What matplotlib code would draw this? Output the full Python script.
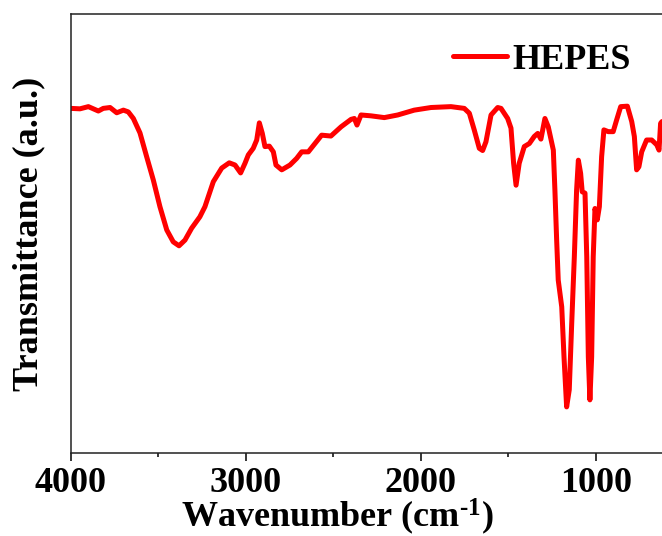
import matplotlib
matplotlib.use("Agg")
import matplotlib.pyplot as plt
from matplotlib.ticker import MultipleLocator

# Data (wavenumber in cm^-1, transmittance in a.u.)
wavenumber = [4000, 3947, 3899, 3842, 3814, 3775, 3737, 3699, 3671, 3642,
              3604, 3566, 3528, 3490, 3451, 3414, 3381, 3347, 3309, 3262,
              3233, 3185, 3137, 3094, 3061, 3029, 3004, 2985, 2957, 2937,
              2922, 2905, 2890, 2865, 2842, 2827, 2794, 2747, 2709, 2680,
              2642, 2604, 2566, 2513, 2455, 2398, 2379, 2364, 2341, 2284,
              2208, 2131, 2037, 1941, 1827, 1751, 1722, 1694, 1665, 1646,
              1627, 1598, 1560, 1541, 1503, 1484, 1469, 1455, 1437, 1408,
              1379, 1351, 1331, 1313, 1290, 1271, 1242, 1233, 1223, 1214,
              1194, 1181, 1166, 1151, 1137, 1122, 1109, 1099, 1086, 1077,
              1061, 1051, 1042, 1033, 1023, 1014, 1004, 991, 979, 966,
              953, 928, 900, 880, 857, 819, 794, 779, 766, 753,
              737, 709, 680, 651, 638, 629, 621]
transmittance = [78.5, 78.4, 78.9, 77.9, 78.5, 78.7, 77.5, 78.1, 77.7, 76.2,
                 72.9, 67.5, 62.2, 56.1, 50.8, 48.1, 47.2, 48.5, 51.2, 53.8,
                 56.1, 61.8, 64.9, 66.1, 65.6, 63.8, 66.0, 67.9, 69.4, 71.3,
                 75.2, 72.8, 69.8, 69.9, 68.6, 65.6, 64.5, 65.6, 67.1, 68.6,
                 68.6, 70.5, 72.4, 72.2, 74.3, 76.0, 76.2, 74.7, 77.0, 76.8,
                 76.4, 77.0, 78.1, 78.7, 78.9, 78.5, 77.4, 73.6, 69.4, 68.9,
                 70.9, 77.0, 78.7, 78.5, 76.2, 74.0, 66.0, 61.0, 66.0, 69.8,
                 70.5, 72.1, 72.8, 71.5, 76.2, 74.3, 69.0, 59.9, 48.5, 39.4,
                 33.3, 21.9, 10.5, 14.4, 29.5, 44.7, 59.9, 66.7, 63.7, 59.5,
                 59.2, 44.7, 21.9, 12.1, 21.9, 44.7, 55.7, 53.1, 56.1, 67.5,
                 73.6, 73.2, 73.2, 75.9, 78.9, 79.0, 75.5, 72.1, 64.5, 65.2,
                 68.6, 71.3, 71.3, 70.2, 69.0, 75.1, 75.5]
series_name = "HEPES"
xticks = [4000, 3000, 2000, 1000]

FONT = "Liberation Serif"
plt.rcParams["font.family"] = [FONT, "DejaVu Serif"]
plt.rcParams["font.weight"] = "bold"
plt.rcParams["mathtext.fontset"] = "custom"
plt.rcParams["mathtext.rm"] = FONT + ":bold"
plt.rcParams["mathtext.it"] = FONT + ":bold"
plt.rcParams["mathtext.bf"] = FONT + ":bold"
plt.rcParams["mathtext.default"] = "rm"

W, H = 662, 536
fig = plt.figure(figsize=(W / 100, H / 100), dpi=100)
left_px, top_px, bottom_px = 70.7, 14.0, 453.0
ax = fig.add_axes([left_px / W, 1 - bottom_px / H, 1 - left_px / W, (bottom_px - top_px) / H])

ax.plot(wavenumber, transmittance, color="#ff0000", lw=3.6, solid_joinstyle="round",
        solid_capstyle="round", label=series_name)

ax.set_xlim(4000, 621)
ax.set_ylim(0, 100)
ax.set_xticks(xticks)
ax.xaxis.set_minor_locator(MultipleLocator(500))
ax.tick_params(axis="x", which="major", direction="out", length=5.8, width=1.1,
               labelsize=26, pad=4)
ax.tick_params(axis="x", which="minor", direction="out", length=2.8, width=1.1)
ax.tick_params(axis="y", which="both", left=False, labelleft=False)
for lab in ax.get_xticklabels():
    lab.set_fontweight("bold")

for s in ["left", "bottom", "top"]:
    ax.spines[s].set_linewidth(1.1)
    ax.spines[s].set_color("#222222")
ax.spines["right"].set_visible(False)

ax.set_ylabel("Transmittance (a.u.)", fontsize=26, fontweight="bold", labelpad=18)
ax.set_xlabel("Wavenumber (cm$^{\u2010 1}$)", fontsize=26, fontweight="bold")
ax.xaxis.label.set_va("baseline")
ax.xaxis.set_label_coords((337.5 - left_px) / (W - left_px), (bottom_px - 527) / (bottom_px - top_px))

leg = ax.legend(loc="center left", bbox_to_anchor=(453 / W, 1 - 60 / H),
                bbox_transform=fig.transFigure, frameon=False,
                handlelength=1.5, handletextpad=0.15, borderpad=0, borderaxespad=0,
                prop={"family": FONT, "weight": "bold", "size": 26})

fig.savefig("out.png", dpi=100)
